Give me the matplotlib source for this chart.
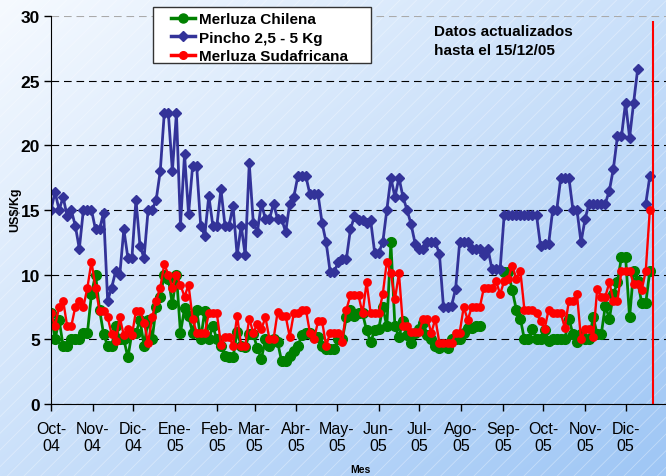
import numpy as np
import pandas as pd
import matplotlib
matplotlib.use("Agg")
import matplotlib.pyplot as plt
import matplotlib.dates as mdates
from matplotlib.patches import Rectangle
from matplotlib.lines import Line2D

plt.rcParams['font.family'] = ['Liberation Sans', 'DejaVu Sans']
plt.rcParams['lines.scale_dashes'] = False
plt.rcParams['hatch.linewidth'] = 0.6

# precios cada 3 dias desde 01/10/04 (US$/Kg)
merluza_chilena = [
	7.0, 5.0, 6.5, 4.5, 4.5, 5.0, 5.0, 5.0, 5.5, 5.5,
	8.5, 10.0, 7.3, 5.4, 4.5, 4.5, 6.0, 5.0, 5.0, 3.6,
	5.5, 5.5, 6.5, 4.5, 6.5, 5.0, 7.5, 8.3, 10.0, 9.7,
	7.7, 10.0, 5.5, 7.4, 6.8, 5.5, 7.3, 5.0, 7.2, 5.0,
	6.0, 5.0, 4.5, 3.7, 3.6, 3.6, 5.6, 4.5, 4.4, 5.4,
	5.4, 4.3, 3.5, 5.0, 4.5, 5.0, 4.8, 3.3, 3.3, 3.7,
	4.1, 4.5, 5.3, 5.5, 5.5, 5.2, 5.2, 4.5, 4.25, 4.25,
	4.25, 5.0, 5.0, 6.7, 7.3, 6.8, 7.0, 7.0, 5.7, 4.8,
	5.7, 5.8, 7.5, 6.0, 12.5, 6.0, 5.2, 6.4, 5.3, 4.7,
	5.5, 5.8, 6.3, 5.3, 5.0, 4.5, 4.3, 4.5, 4.3, 5.0,
	5.0, 5.0, 5.5, 5.9, 5.9, 6.0, 6.0, np.nan, np.nan, np.nan,
	np.nan, np.nan, 10.2, 10.2, 8.8, 7.3, 6.6, 5.0, 5.0, 5.8,
	5.0, 5.0, 5.7, 4.9, 5.0, 5.0, 5.0, 5.0, 6.6, 5.4,
	4.8, 5.4, 5.0, 5.0, 6.7, 5.4, 5.4, 7.6, 6.6, 8.5,
	9.4, 11.4, 11.4, 6.7, 10.3, 9.5, 7.8, 7.8, 10.3,
]
pincho = [
	15.0, 16.4, 15.0, 16.0, 14.5, 15.0, 13.8, 12.0, 15.0, 15.0,
	15.0, 13.5, 13.5, 14.8, 8.0, 9.0, 10.3, 10.0, 13.5, 11.3,
	11.3, 15.8, 12.2, 11.3, 15.0, 15.0, 15.8, 18.0, 22.5, 22.5,
	18.0, 22.5, 13.8, 19.3, 14.7, 18.4, 18.4, 13.8, 13.0, 16.1,
	13.8, 13.8, 16.6, 13.8, 13.8, 15.3, 11.5, 13.8, 11.5, 18.6,
	14.0, 13.3, 15.5, 14.3, 14.3, 15.5, 14.3, 14.3, 13.3, 15.5,
	16.0, 17.6, 17.6, 17.6, 16.2, 16.2, 16.2, 14.0, 12.5, 10.2,
	10.2, 11.0, 11.2, 11.2, 13.5, 14.5, 14.2, 14.2, 14.0, 14.2,
	11.7, 11.7, 12.5, 15.0, 17.5, 16.0, 17.5, 16.0, 15.0, 13.9,
	12.4, 12.0, 12.0, 12.5, 12.5, 12.5, 11.6, 7.5, 7.5, 7.6,
	8.9, 12.5, 12.5, 12.5, 12.0, 12.0, 12.0, 11.5, 12.0, 10.4,
	10.4, 10.4, 14.6, 14.6, 14.6, 14.6, 14.6, 14.6, 14.6, 14.6,
	14.6, 12.2, 12.4, 12.4, 15.0, 15.0, 17.5, 17.5, 17.5, 15.0,
	15.0, 12.5, 14.3, 15.5, 15.5, 15.5, 15.5, 15.5, 16.5, 18.2,
	20.7, 20.7, 23.3, 20.6, 23.3, 25.9, np.nan, 15.5, 17.6,
]
merluza_sudafricana = [
	7.0, 6.0, 7.5, 8.0, 6.0, 6.0, 7.5, 8.0, 7.5, 9.0,
	11.0, 9.0, 7.2, 7.2, 6.7, 5.4, 4.9, 6.7, 5.3, 5.8,
	5.3, 7.2, 7.2, 6.3, 4.7, 6.7, 8.0, 9.0, 10.8, 10.0,
	9.0, 10.0, 9.2, 8.3, 9.2, 6.6, 5.5, 5.5, 5.5, 7.0,
	7.0, 7.0, 4.6, 5.2, 5.2, 4.5, 6.8, 4.5, 4.5, 6.6,
	5.5, 6.2, 5.8, 6.7, 5.0, 5.0, 7.1, 6.8, 6.8, 5.2,
	7.0, 7.0, 7.3, 7.3, 5.5, 5.0, 6.4, 6.4, 4.5, 5.5,
	5.5, 5.5, 4.8, 7.3, 8.4, 8.4, 8.4, 7.0, 9.4, 7.0,
	7.0, 7.0, 8.5, 11.0, 10.1, 8.1, 10.1, 6.0, 6.0, 5.6,
	5.6, 5.6, 6.6, 6.6, 5.5, 6.6, 4.7, 4.7, 4.7, 4.7,
	5.5, 5.5, 7.5, 6.5, 7.5, 7.5, 7.5, 9.0, 9.0, 9.0,
	9.5, 8.5, 9.5, 9.7, 10.7, 9.7, 10.3, 7.3, 7.3, 7.3,
	7.0, 6.4, 5.8, 7.3, 7.0, 7.0, 7.0, 5.9, 8.0, 8.0,
	8.5, 5.0, 5.8, 5.8, 5.2, 8.9, 8.3, 8.3, 9.4, 8.0,
	8.0, 10.3, 10.3, 10.3, 9.3, 9.3, 8.8, 10.3, 15.0,
]
meses = ['Oct-04', 'Nov-04', 'Dic-04', 'Ene-05', 'Feb-05', 'Mar-05', 'Abr-05', 'May-05',
	'Jun-05', 'Jul-05', 'Ago-05', 'Sep-05', 'Oct-05', 'Nov-05', 'Dic-05']
fecha_corte = '2005-12-21'

fechas = mdates.date2num(pd.date_range('2004-10-01', periods=len(pincho), freq='3D').to_pydatetime())
inicio_mes = mdates.date2num(pd.date_range('2004-10-01', periods=len(meses), freq='MS').to_pydatetime())

W, H = 666, 477
fig = plt.figure(figsize=(W/100, H/100), dpi=100)

# fondo degradado con rayas diagonales
bg = fig.add_axes([0, 0, 1, 1], zorder=-10)
bg.axis('off')
yy, xx = np.mgrid[0:1:H*1j, 0:1:W*1j]
t = 0.5*xx + 0.5*yy
c0 = np.array([246, 250, 255])/255.
c1 = np.array([158, 198, 245])/255.
img = c0 + (c1-c0)*t[..., None]
bg.imshow(img, extent=[0, 1, 0, 1], aspect='auto', origin='upper')
bg.add_patch(Rectangle((0, 0), 1, 1, transform=bg.transAxes, facecolor='none',
	edgecolor=(1, 1, 1, 0.35), hatch='//', lw=0))
bg.set_xlim(0, 1)
bg.set_ylim(0, 1)

ax = fig.add_axes([51/W, 1-405/H, 1-51/W, (405-17)/H])
ax.set_facecolor('none')

green = '#008000'
blue = '#333399'
red = '#ff0000'

ax.plot(fechas, merluza_chilena, color=green, lw=2.0, marker='o', ms=7, mec=green, mfc=green, label='Merluza Chilena')
ax.plot(fechas, pincho, color=blue, lw=2.0, marker='D', ms=5.2, mec=blue, mfc=blue, label='Pincho 2,5 - 5 Kg')
ax.plot(fechas, merluza_sudafricana, color=red, lw=1.7, marker='o', ms=5.3, mec=red, mfc=red, label='Merluza Sudafricana')

ax.vlines(mdates.date2num(pd.Timestamp(fecha_corte).to_pydatetime()), 0, 29.6, color=red, lw=1.5)

ax.set_xlim(mdates.date2num(pd.Timestamp('2004-10-01').to_pydatetime()),
	mdates.date2num(pd.Timestamp('2005-12-31').to_pydatetime()))
ax.set_ylim(0, 30)
ax.set_yticks(range(0, 31, 5))
ax.set_xticks(inicio_mes)
ax.set_xticklabels([m.replace('-', '-\n') for m in meses], fontsize=11.5, linespacing=1.2)
for lab in ax.get_yticklabels():
	lab.set_fontweight('bold')
	lab.set_fontsize(12.5)

ax.spines['top'].set_visible(False)
ax.spines['right'].set_visible(False)
ax.tick_params(axis='both', direction='out', length=5, width=1, color='black')
ax.tick_params(axis='x', pad=7)
ax.tick_params(axis='y', pad=3)

ax.yaxis.grid(True, color='black', lw=0.8, linestyle=(0, (5.5, 3.5)))
ax.yaxis.get_gridlines()[-1].set_color('#aaaaaa')
ax.set_axisbelow(True)

fig.text(15/W, 1-210/H, 'US$/Kg', rotation=90, ha='center', va='center', fontsize=9, fontweight='bold')
fig.text(360/W, 1-470/H, 'Mes', ha='center', va='center', fontsize=7.5, fontweight='bold')
fig.text(434/W, 1-25/H, 'Datos actualizados\nhasta el 15/12/05', ha='left', va='top',
	fontsize=11, fontweight='bold', linespacing=1.45)

# leyenda con marco propio
fig.add_artist(Rectangle((153/W, 1-64/H), 218/W, 56/H, transform=fig.transFigure,
	facecolor='white', edgecolor='#333333', lw=1, zorder=4))
handles = [
	Line2D([], [], color=green, lw=2.5, marker='o', ms=6.5),
	Line2D([], [], color=blue, lw=2.5, marker='D', ms=5.5),
	Line2D([], [], color=red, lw=2.5, marker='o', ms=5.5),
]
labels = ['Merluza Chilena', 'Pincho 2,5 - 5 Kg', 'Merluza Sudafricana']
leg = fig.legend(handles, labels, loc='upper left', bbox_to_anchor=(171/W, 1-13/H),
	frameon=False, borderpad=0, borderaxespad=0, handlelength=1.6, handletextpad=0.25,
	labelspacing=0.3, prop={'weight': 'bold', 'size': 11})
leg.set_zorder(5)

fig.savefig('out.png', dpi=100)
